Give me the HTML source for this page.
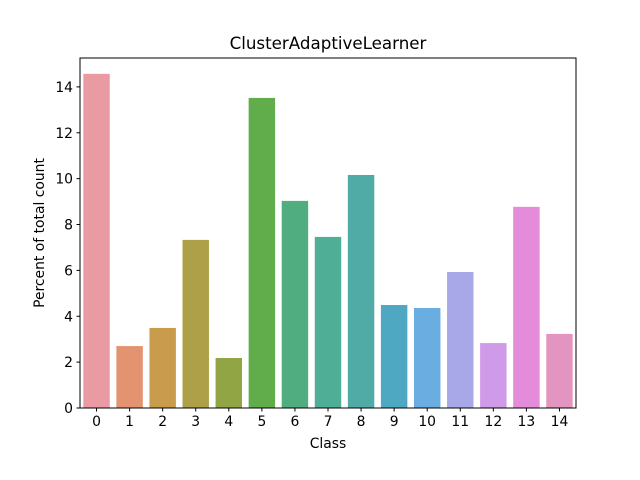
<!DOCTYPE html>
<html><head><meta charset="utf-8"><style>body{margin:0;background:#fff}svg{display:block;font-family:"DejaVu Sans","Liberation Sans",sans-serif}</style></head>
<body>
<svg id="chart" width="640" height="480"></svg>
<script>
const categories=["0","1","2","3","4","5","6","7","8","9","10","11","12","13","14"];
const values=[14.57,2.70,3.49,7.33,2.18,13.52,9.03,7.46,10.16,4.49,4.36,5.93,2.83,8.77,3.23];
const yTicks=[0,2,4,6,8,10,12,14];
const colors=["#e99aa3","#e3936f","#c99c4d","#ada048","#92a544","#61ad4b","#50ad80","#4fae96","#50aba7","#4fa8c1","#6aade0","#a8a8e8","#cf9be8","#e48bd9","#e495bf"];
const L=80,R=576,T=58,B=408,yMax=15.26;
const svg=document.getElementById('chart');const NS='http://www.w3.org/2000/svg';
function x(i){return L+(R-L)/categories.length*(i+0.5);}
function y(v){return B-(B-T)*v/yMax;}
function mk(t,a,txt){const e=document.createElementNS(NS,t);for(const k in a)e.setAttribute(k,a[k]);if(txt!==undefined)e.textContent=txt;svg.appendChild(e);return e;}
const bw=(R-L)/categories.length*0.8;
values.forEach((v,i)=>{const r=mk('rect',{x:x(i)-bw/2,y:y(v),width:bw,height:B-y(v),fill:colors[i]});

});
mk('rect',{x:L,y:T,width:R-L,height:B-T,fill:'none',stroke:'#000','stroke-width':1});
categories.forEach((c,i)=>{mk('line',{x1:x(i),x2:x(i),y1:B,y2:B+3.5,stroke:'#000'});
const t=mk('text',{x:x(i),y:B+18,'font-size':13.9,'text-anchor':'middle'},c);

});
yTicks.forEach(v=>{mk('line',{x1:L-3.5,x2:L,y1:y(v),y2:y(v),stroke:'#000'});
const t=mk('text',{x:L-7,y:y(v)+5,'font-size':13.9,'text-anchor':'end'},v);

});
const tt=mk('text',{x:(L+R)/2,y:49,'font-size':16.7,'text-anchor':'middle'},'ClusterAdaptiveLearner');


const xl=mk('text',{x:(L+R)/2,y:448,'font-size':13.9,'text-anchor':'middle'},'Class');


const yl=mk('text',{x:0,y:0,'font-size':13.9,'text-anchor':'middle',transform:'translate(44,233) rotate(-90)'},'Percent of total count');


</script>
</body></html>
